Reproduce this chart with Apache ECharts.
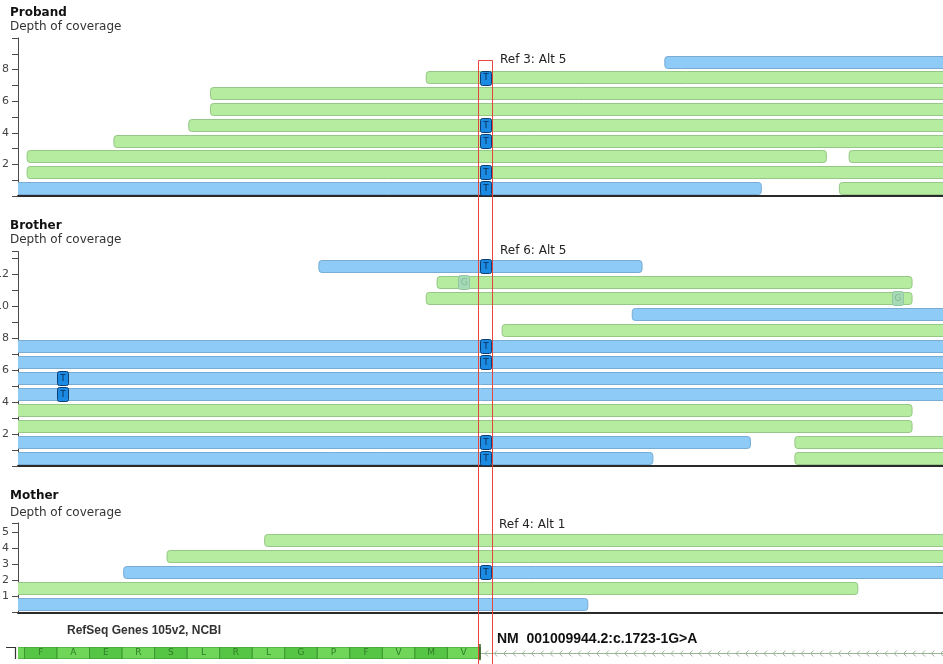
<!DOCTYPE html>
<html>
<head>
<meta charset="utf-8">
<script src="https://cdn.jsdelivr.net/npm/echarts@6/dist/echarts.min.js"></script>
<style>
  html, body { margin: 0; padding: 0; background: #ffffff; }
  #chart { width: 943px; height: 664px; }
</style>
</head>
<body>
<div id="chart"></div>
<script>
// Genomic window in bp, relative to the variant c.1723-1G>A (position 0)
const POS_MIN = -43.1;
const POS_MAX = 42.2;
const VARIANT_POS = 0;
const EXON_END = -0.5;

// Aligned reads per sample: [row, start, end, strand]  ('+' green, '-' blue)
const probandReads = [
  [0, -50, 25.4, '-'], [0, 32.6, 50, '+'],
  [1, -42.3, 50, '+'],
  [2, -42.3, 31.4, '+'], [2, 33.5, 50, '+'],
  [3, -34.3, 50, '+'],
  [4, -27.4, 50, '+'],
  [5, -25.4, 50, '+'],
  [6, -25.4, 50, '+'],
  [7, -5.5, 50, '+'],
  [8, 16.5, 50, '-']
];
// Mismatched bases: [row, position, base]
const probandMismatch = [
  [0, 0, 'T'], [1, 0, 'T'], [3, 0, 'T'], [4, 0, 'T'], [7, 0, 'T']
];

const brotherReads = [
  [0, -50, 15.4, '-'], [0, 28.5, 50, '+'],
  [1, -50, 24.4, '-'], [1, 28.5, 50, '+'],
  [2, -50, 39.3, '+'],
  [3, -50, 39.3, '+'],
  [4, -50, 50, '-'],
  [5, -50, 50, '-'],
  [6, -50, 50, '-'],
  [7, -50, 50, '-'],
  [8, 1.5, 50, '+'],
  [9, 13.5, 50, '-'],
  [10, -5.5, 39.3, '+'],
  [11, -4.5, 39.3, '+'],
  [12, -15.4, 14.4, '-']
];
const brotherMismatch = [
  [0, 0, 'T'], [1, 0, 'T'], [4, -39, 'T'], [5, -39, 'T'],
  [6, 0, 'T'], [7, 0, 'T'], [12, 0, 'T']
];
// Low-quality mismatches, drawn faded
const brotherLowQual = [
  [10, 38, 'G'], [11, -2, 'G']
];

const motherReads = [
  [0, -50, 9.4, '-'],
  [1, -50, 34.3, '+'],
  [2, -33.4, 50, '-'],
  [3, -29.4, 50, '+'],
  [4, -20.4, 50, '+']
];
const motherMismatch = [
  [2, 0, 'T']
];

// Depth axis extents and labelled ticks
const probandDepthMax = 10;
const brotherDepthMax = 13.4;
const motherDepthMax = 5.6;
const probandTickLabels = [2, 4, 6, 8];
const brotherTickLabels = [2, 4, 6, 8, 10, 12];
const motherTickLabels = [1, 2, 3, 4, 5];

// Allele counts at the variant
const alleleLabels = ['Ref 3: Alt 5', 'Ref 6: Alt 5', 'Ref 4: Alt 1'];
const sampleNames = ['Proband', 'Brother', 'Mother'];

// Coding exon (minus strand) amino acids, left to right, ending at EXON_END
const aminoAcids = ['F', 'A', 'E', 'R', 'S', 'L', 'R', 'L', 'G', 'P', 'F', 'V', 'M', 'V'];

const FONT = '"DejaVu Sans", Verdana, sans-serif';
const BLUE = { fill: '#8ecbf7', stroke: '#78acd3' };
const GREEN = { fill: '#b5ec9f', stroke: '#95c786' };

const chart = echarts.init(document.getElementById('chart'), null, { renderer: 'canvas' });

function readRenderer(reads) {
  return function (params, api) {
    const r = reads[params.dataIndex];
    const row = api.value(0);
    const a = api.coord([api.value(1), row + 0.88]);
    const b = api.coord([api.value(2), row + 0.12]);
    const c = r[3] === '+' ? GREEN : BLUE;
    return {
      type: 'rect',
      shape: { x: a[0] + 0.5, y: Math.round(a[1]) + 0.5, width: b[0] - a[0], height: Math.round(b[1] - a[1]), r: 3 },
      style: { fill: c.fill, stroke: c.stroke, lineWidth: 1 }
    };
  };
}

function baseRenderer(list, faded) {
  return function (params, api) {
    const m = list[params.dataIndex];
    const row = api.value(0);
    const pos = api.value(1);
    const a = api.coord([pos - 0.52, row + 0.94]);
    const b = api.coord([pos + 0.52, row + 0.06]);
    const w = b[0] - a[0], h = b[1] - a[1];
    return {
      type: 'group',
      children: [
        {
          type: 'rect',
          shape: { x: Math.round(a[0]) + 0.5, y: Math.round(a[1]) + 0.5, width: Math.round(w), height: Math.round(h), r: 2 },
          style: faded
            ? { fill: '#a6d9b6', stroke: '#92c7a2', lineWidth: 1 }
            : { fill: '#1b8ae3', stroke: '#0d3e73', lineWidth: 1 }
        },
        {
          type: 'text',
          x: a[0] + w / 2 + 0.5, y: a[1] + h / 2 + 0.5,
          style: {
            text: m[2], align: 'center', verticalAlign: 'middle',
            font: '9px ' + FONT, fill: faded ? '#86b894' : '#0b2c55'
          }
        }
      ]
    };
  };
}

function panelSeries(gridIdx, reads, mism, lowq) {
  const out = [
    {
      type: 'custom', xAxisIndex: gridIdx, yAxisIndex: gridIdx, clip: true, z: 2,
      renderItem: readRenderer(reads),
      data: reads.map(r => [r[0], r[1], r[2]])
    },
    {
      type: 'custom', xAxisIndex: gridIdx, yAxisIndex: gridIdx, clip: true, z: 3,
      renderItem: baseRenderer(mism, false),
      data: mism.map(m => [m[0], m[1]])
    }
  ];
  if (lowq) {
    out.push({
      type: 'custom', xAxisIndex: gridIdx, yAxisIndex: gridIdx, clip: true, z: 3,
      renderItem: baseRenderer(lowq, true),
      data: lowq.map(m => [m[0], m[1]])
    });
  }
  return out;
}

function depthAxis(gridIdx, max, labels) {
  return {
    type: 'value', gridIndex: gridIdx, min: 0, max: max, interval: 1, position: 'left',
    axisLine: { show: true, onZero: false, lineStyle: { color: '#4a4a4a', width: 1 } },
    axisTick: { show: true, length: 6, lineStyle: { color: '#4a4a4a' } },
    axisLabel: {
      margin: 9, fontSize: 11, fontFamily: FONT, color: '#444',
      showMaxLabel: true,
      formatter: v => labels.indexOf(v) >= 0 ? String(v) : ''
    },
    splitLine: { show: false }
  };
}

function posAxis(gridIdx, showLine) {
  return {
    type: 'value', gridIndex: gridIdx, min: POS_MIN, max: POS_MAX, position: 'bottom',
    axisLine: { show: showLine, onZero: false, lineStyle: { color: '#2a2a2a', width: 2 } },
    axisTick: { show: false }, axisLabel: { show: false }, splitLine: { show: false }
  };
}

// Gene track: codons and intron
function codonRenderer(params, api) {
  const i = params.dataIndex;
  const a = api.coord([api.value(0), 1]);
  const b = api.coord([api.value(1), 0]);
  const dark = i % 2 === 0;
  return {
    type: 'group',
    children: [
      {
        type: 'rect',
        shape: { x: a[0], y: a[1], width: b[0] - a[0], height: b[1] - a[1] },
        style: { fill: dark ? '#56c445' : '#6fd65a', stroke: '#3c9a2f', lineWidth: 1 }
      },
      {
        type: 'text', x: (a[0] + b[0]) / 2, y: (a[1] + b[1]) / 2,
        style: { text: aminoAcids[i], align: 'center', verticalAlign: 'middle', font: '9px ' + FONT, fill: '#2f7d26' }
      }
    ]
  };
}

function intronRenderer(params, api) {
  const a = api.coord([api.value(0), 0.5]);
  const b = api.coord([api.value(1), 0.5]);
  const y = Math.round(a[1]) + 0.5;
  const children = [{
    type: 'line', shape: { x1: a[0], y1: y, x2: b[0], y2: y },
    style: { stroke: '#9db59a', lineWidth: 1 }
  }];
  for (let x = a[0] + 5; x < b[0]; x += 9.3) {
    children.push({
      type: 'polyline',
      shape: { points: [[x + 3, y - 3], [x, y], [x + 3, y + 3]] },
      style: { stroke: '#9db59a', lineWidth: 1, fill: null }
    });
  }
  return { type: 'group', children: children };
}

const codons = aminoAcids.map((aa, i) => {
  const start = EXON_END - 3 * (aminoAcids.length - i);
  return [start, start + 3];
});

const gridBase = { left: 18, right: 0, containLabel: false, outerBoundsMode: 'none' };
const grids = [
  Object.assign({ top: 38, height: 158 }, gridBase),          // proband
  Object.assign({ top: 251.6, height: 214.4 }, gridBase),     // brother
  Object.assign({ top: 522.9, height: 89.6 }, gridBase),      // mother
  Object.assign({ top: 647, height: 12 }, gridBase),          // gene track
  Object.assign({ top: 60, height: 620 }, gridBase)           // variant column
];

function txt(x, y, s, font, color) {
  return { type: 'text', x: x, y: y, style: { text: s, font: font, fill: color, verticalAlign: 'middle' }, z: 10 };
}

const option = {
  animation: false,
  backgroundColor: '#ffffff',
  grid: grids,
  xAxis: [posAxis(0, true), posAxis(1, true), posAxis(2, true), posAxis(3, false), posAxis(4, false)],
  yAxis: [
    depthAxis(0, probandDepthMax, probandTickLabels),
    depthAxis(1, brotherDepthMax, brotherTickLabels),
    depthAxis(2, motherDepthMax, motherTickLabels),
    { type: 'value', gridIndex: 3, min: 0, max: 1, show: false },
    { type: 'value', gridIndex: 4, min: 0, max: 1, show: false }
  ],
  series: [
    ...panelSeries(0, probandReads, probandMismatch),
    ...panelSeries(1, brotherReads, brotherMismatch, brotherLowQual),
    ...panelSeries(2, motherReads, motherMismatch),
    {
      type: 'custom', xAxisIndex: 3, yAxisIndex: 3, clip: true, z: 2,
      renderItem: intronRenderer, data: [[EXON_END, POS_MAX + 1]]
    },
    {
      type: 'custom', xAxisIndex: 3, yAxisIndex: 3, clip: true, z: 3,
      renderItem: function (params, api) {
        // exon background reaching the left edge of the window
        const a = api.coord([api.value(0), 1]);
        const b = api.coord([api.value(1), 0]);
        return {
          type: 'rect', shape: { x: a[0], y: a[1], width: b[0] - a[0], height: b[1] - a[1] },
          style: { fill: '#6fd65a', stroke: '#3c9a2f', lineWidth: 1 }
        };
      },
      data: [[POS_MIN - 5, EXON_END]]
    },
    {
      type: 'custom', xAxisIndex: 3, yAxisIndex: 3, clip: true, z: 4,
      renderItem: codonRenderer, data: codons
    },
    {
      type: 'custom', xAxisIndex: 3, yAxisIndex: 3, clip: false, z: 5,
      renderItem: function (params, api) {
        const a = api.coord([api.value(0), 1.25]);
        const b = api.coord([api.value(0), -0.1]);
        return { type: 'line', shape: { x1: a[0], y1: a[1], x2: b[0], y2: b[1] }, style: { stroke: '#3b5a1f', lineWidth: 1.5 } };
      },
      data: [[EXON_END]]
    },
    {
      // highlighted variant column
      type: 'custom', xAxisIndex: 4, yAxisIndex: 4, clip: false, z: 20,
      renderItem: function (params, api) {
        const a = api.coord([api.value(0) - 0.6, 1]);
        const b = api.coord([api.value(0) + 0.6, 0]);
        return {
          type: 'rect',
          shape: { x: Math.round(a[0]) - 0.5, y: Math.round(a[1]) + 0.5, width: Math.round(b[0] - a[0]) + 1, height: b[1] - a[1] },
          style: { fill: null, stroke: '#e8453c', lineWidth: 1 }
        };
      },
      data: [[VARIANT_POS]]
    }
  ],
  graphic: [
    txt(10, 13, sampleNames[0], 'bold 12px ' + FONT, '#111'),
    txt(10, 27, 'Depth of coverage', '12px ' + FONT, '#333'),
    txt(10, 226, sampleNames[1], 'bold 12px ' + FONT, '#111'),
    txt(10, 240, 'Depth of coverage', '12px ' + FONT, '#333'),
    txt(10, 496, sampleNames[2], 'bold 12px ' + FONT, '#111'),
    txt(10, 513, 'Depth of coverage', '12px ' + FONT, '#333'),
    txt(500, 60, alleleLabels[0], '12px ' + FONT, '#222'),
    txt(500, 251, alleleLabels[1], '12px ' + FONT, '#222'),
    txt(499, 525, alleleLabels[2], '12px ' + FONT, '#222'),
    txt(67, 631, 'RefSeq Genes 105v2, NCBI', 'bold 12px "Liberation Sans", Arial, sans-serif', '#333'),
    txt(497, 639, 'NM  001009944.2:c.1723-1G>A', 'bold 14px "Liberation Sans", Arial, sans-serif', '#111'),
    {
      type: 'polyline', z: 10,
      shape: { points: [[6, 647.5], [15.5, 647.5], [15.5, 659]] },
      style: { stroke: '#333', lineWidth: 1.2, fill: null }
    }
  ]
};

chart.setOption(option);
</script>
</body>
</html>
